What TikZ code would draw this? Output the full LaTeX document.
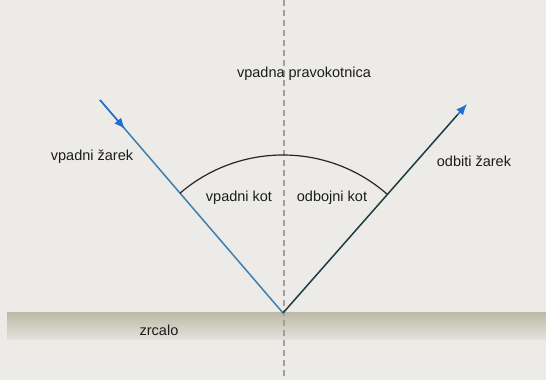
\documentclass[tikz,border=0pt]{standalone}
\usepackage{fontspec}
\setmainfont{Liberation Sans}
\usetikzlibrary{arrows.meta,calc}
\definecolor{bg}{HTML}{ECEBE7}
\definecolor{raycol}{HTML}{3E7FB0}
\definecolor{tipcol}{HTML}{1F6FD0}
\definecolor{refcol}{HTML}{1E3B48}
\definecolor{mirtop}{HTML}{BDBBA6}
\definecolor{mirbot}{HTML}{E4E3DD}
\definecolor{txt}{HTML}{1C1C1A}
\begin{document}
\begin{tikzpicture}[x=1pt,y=1pt,
  lbl/.style={font=\fontsize{14.5}{16}\selectfont, text=txt, inner sep=0pt},
  normalline/.style={draw=gray!75, dash pattern=on 6pt off 4pt, line width=1.1pt},
  incray/.style={draw=raycol, line width=1.5pt},
  refray/.style={draw=refcol, line width=1.5pt},
  bluetip/.style={-{Latex[length=11pt,width=9pt]}, color=tipcol}]
\useasboundingbox (0,0) rectangle (546,380);
\fill[bg] (0,0) rectangle (546,380);
% mirror
\shade[top color=mirtop, bottom color=mirbot] (7,40) rectangle (546,67);
% coordinates
\coordinate (apex) at (283,67);
\coordinate (istart) at (100,280);
\coordinate (itip) at (125,251);
\coordinate (rend) at (467,276);
\coordinate (rtipstart) at ($(apex)!0.95!(rend)$);
\coordinate (ntop) at (284,380);
\coordinate (nbot) at (284,0);
% normal
\draw[normalline] (ntop) -- (nbot);
% rays
\draw[incray] (istart) -- (apex);
\draw[incray, bluetip] (istart) -- (itip);
\draw[refray] (apex) -- (rtipstart);
\draw[bluetip, line width=1.5pt] (rtipstart) -- (rend);
% arc
\coordinate (arcstart) at ([shift={(130.7:158)}]apex);
\draw[line width=1.2pt, black!85] (arcstart) arc[start angle=130.7, end angle=48.6, radius=158];
% labels
\node[lbl] (lnormal) at (304,306) {vpadna pravokotnica};
\node[lbl] (linc) at (92,223) {vpadni žarek};
\node[lbl] (lref) at (474,219) {odbiti žarek};
\node[lbl] (lia) at (239,182) {vpadni kot};
\node[lbl] (lra) at (332,182) {odbojni kot};
\node[lbl] (lmir) at (159,50) {zrcalo};
\end{tikzpicture}
\end{document}
